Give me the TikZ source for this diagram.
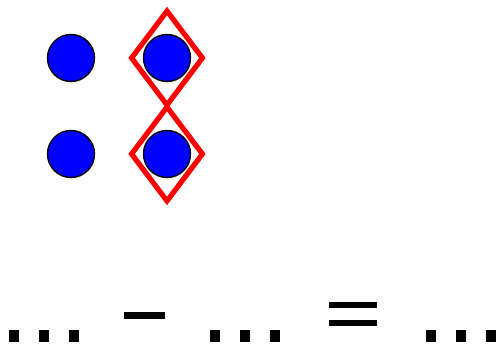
\documentclass[tikz,border=0pt]{standalone}
\usepackage{tikz}
\usetikzlibrary{positioning,shapes.geometric}

\begin{document}
\begin{tikzpicture}[
      x=1pt,y=-1pt,
      dot/.style={circle,draw=black,line width=1.4pt,fill=blue,minimum size=47pt,inner sep=0pt},
      sel/.style={diamond,draw=red,line width=5.2pt,minimum width=73pt,minimum height=96pt,inner sep=0pt},
      sq/.style={rectangle,fill=black,minimum width=10pt,minimum height=12pt,inner sep=0pt},
      bar/.style={rectangle,fill=black,inner sep=0pt}
    ]
    \useasboundingbox (0,0) rectangle (499,352);
    % grid of dots
    \node[dot] (a1) at (71,58) {};
    \node[dot] (b1) at (167,58) {};
    \node[dot] (a2) at (71,154) {};
    \node[dot] (b2) at (167,154) {};
    % selection
    \node[sel] (s1) at (b1) {};
    \node[sel] (s2) at (b2) {};
    % bottom row
    \foreach \i/\x in {1/14,2/44,3/74} \node[sq] (l\i) at (\x,336) {};
    \foreach \i/\x in {1/215,2/245,3/275} \node[sq] (m\i) at (\x,336) {};
    \foreach \i/\x in {1/431,2/461,3/491} \node[sq] (r\i) at (\x,336) {};
    \node[bar,minimum width=41pt,minimum height=7pt] (minus) at (144.5,315.5) {};
    \node[bar,minimum width=48pt,minimum height=6pt] (eqa) at (353,305.5) {};
    \node[bar,minimum width=48pt,minimum height=6pt] (eqb) at (353,323) {};
  \end{tikzpicture}
\end{document}
